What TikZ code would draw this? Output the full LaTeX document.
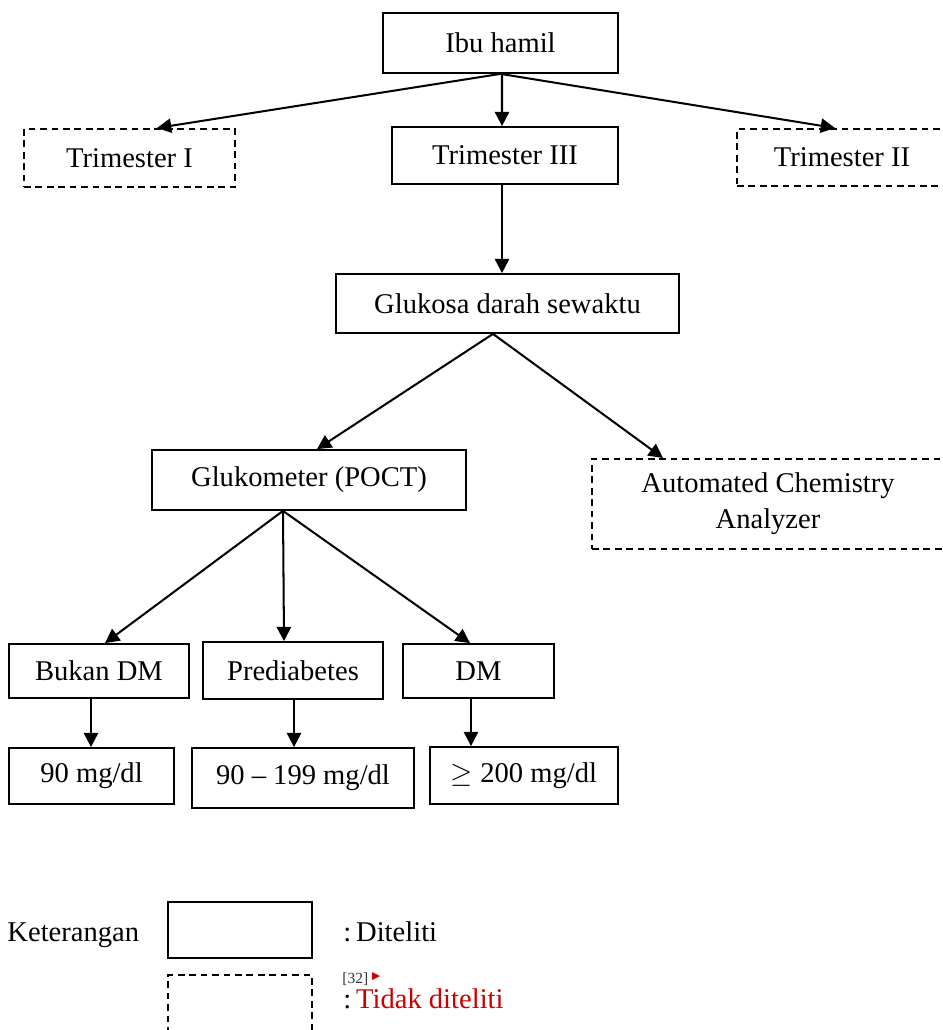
\documentclass[tikz,border=0pt]{standalone}
\usepackage{fontspec}
\setmainfont{Liberation Serif}
\usepackage{tikz}
\usetikzlibrary{shapes.geometric, arrows.meta}
\definecolor{notered}{RGB}{204,0,0}
\newcommand{\pxu}{0.42pt}

\begin{document}
\begin{tikzpicture}[x=\pxu, y=-\pxu, font=\fontsize{12}{15}\selectfont,
    box/.style={draw, line width=0.75pt, inner sep=0pt, align=center},
    skipbox/.style={box, dash pattern=on 2.8pt off 2pt, line width=0.85pt},
    arr/.style={-{Triangle[length=6pt, width=6pt]}, line width=0.85pt}]
        \useasboundingbox (0,0) rectangle (942,1030);

        % Top level
        \node[box, minimum width=235*\pxu, minimum height=60*\pxu] (ibu) at (500.5,43) {Ibu hamil};
        \node[skipbox, minimum width=211*\pxu, minimum height=58*\pxu] (trim1) at (129.5,158) {Trimester I};
        \node[box, minimum width=226*\pxu, minimum height=57*\pxu] (trim3) at (505,155.5) {Trimester III};
        \node[skipbox, minimum width=210*\pxu, minimum height=57*\pxu] (trim2) at (842,157.5) {Trimester II};

        % Methods
        \node[box, minimum width=343*\pxu, minimum height=59*\pxu] (gds) at (507.5,303.5) {Glukosa darah sewaktu};
        \node[box, minimum width=314*\pxu, minimum height=60*\pxu] (gluko) at (309,480) {Glukometer (POCT)};
        \node[skipbox, minimum width=352*\pxu, minimum height=90*\pxu] (aca) at (768,504) {Automated Chemistry\\Analyzer};

        % Categories and values
        \node[box, minimum width=180*\pxu, minimum height=54*\pxu] (bukan) at (99,671) {Bukan DM};
        \node[box, minimum width=180*\pxu, minimum height=57*\pxu] (pre) at (293,670.5) {Prediabetes};
        \node[box, minimum width=151*\pxu, minimum height=54*\pxu] (dm) at (478.5,671) {DM};
        \node[box, minimum width=165*\pxu, minimum height=56*\pxu] (v90) at (91.5,776) {90 mg/dl};
        \node[box, minimum width=222*\pxu, minimum height=60*\pxu] (v199) at (303,778) {90 -- 199 mg/dl};
        \node[box, minimum width=188*\pxu, minimum height=57*\pxu] (v200) at (524,775.5) {$\geq$ 200 mg/dl};

        % Arrows
        \draw[arr] (ibu.south) -- ([xshift=27.5*\pxu]trim1.north);
        \draw[arr] ([xshift=1.5*\pxu]ibu.south) -- ([xshift=-3*\pxu]trim3.north);
        \draw[arr] (ibu.south) -- ([xshift=-7*\pxu]trim2.north);
        \draw[arr] ([xshift=-3*\pxu]trim3.south) -- ([xshift=-5.5*\pxu]gds.north);
        \draw[arr] ([xshift=-14.5*\pxu]gds.south) -- ([xshift=8*\pxu]gluko.north);
        \draw[arr] ([xshift=-14.5*\pxu]gds.south) -- ([xshift=-105*\pxu]aca.north);
        \draw[arr] ([xshift=-26*\pxu]gluko.south) -- ([xshift=6*\pxu]bukan.north);
        \draw[arr] ([xshift=-26*\pxu]gluko.south) -- ([xshift=-9*\pxu]pre.north);
        \draw[arr] ([xshift=-26*\pxu]gluko.south) -- ([xshift=-8.5*\pxu]dm.north);
        \draw[arr] ([xshift=-8*\pxu]bukan.south) -- ([xshift=-0.5*\pxu]v90.north);
        \draw[arr] ([xshift=1*\pxu]pre.south) -- ([xshift=-9*\pxu]v199.north);
        \draw[arr] ([xshift=-7.5*\pxu]dm.south) -- ([xshift=-53*\pxu]v200.north);

        % Legend
        \node[anchor=base west, inner sep=0pt] (keter) at (7,941) {Keterangan};
        \node[box, minimum width=144*\pxu, minimum height=56*\pxu] (legdone) at (240,930) {};
        \node[anchor=base west, inner sep=0pt] (diteliti) at (343,941) {:\,Diteliti};
        \node[skipbox, minimum width=144*\pxu, minimum height=60*\pxu] (legskip) at (240,1005) {};
        \node[anchor=base west, inner sep=0pt, font=\fontsize{6.5}{7}\selectfont, text=black!80] (ref) at (342,983) {[32]};
        \fill[notered] (372,972) -- (380,976) -- (372,980) -- cycle;
        \node[anchor=base west, inner sep=0pt] (tidak) at (343,1008) {:\,\textcolor{notered}{Tidak diteliti}};
    \end{tikzpicture}
\end{document}
